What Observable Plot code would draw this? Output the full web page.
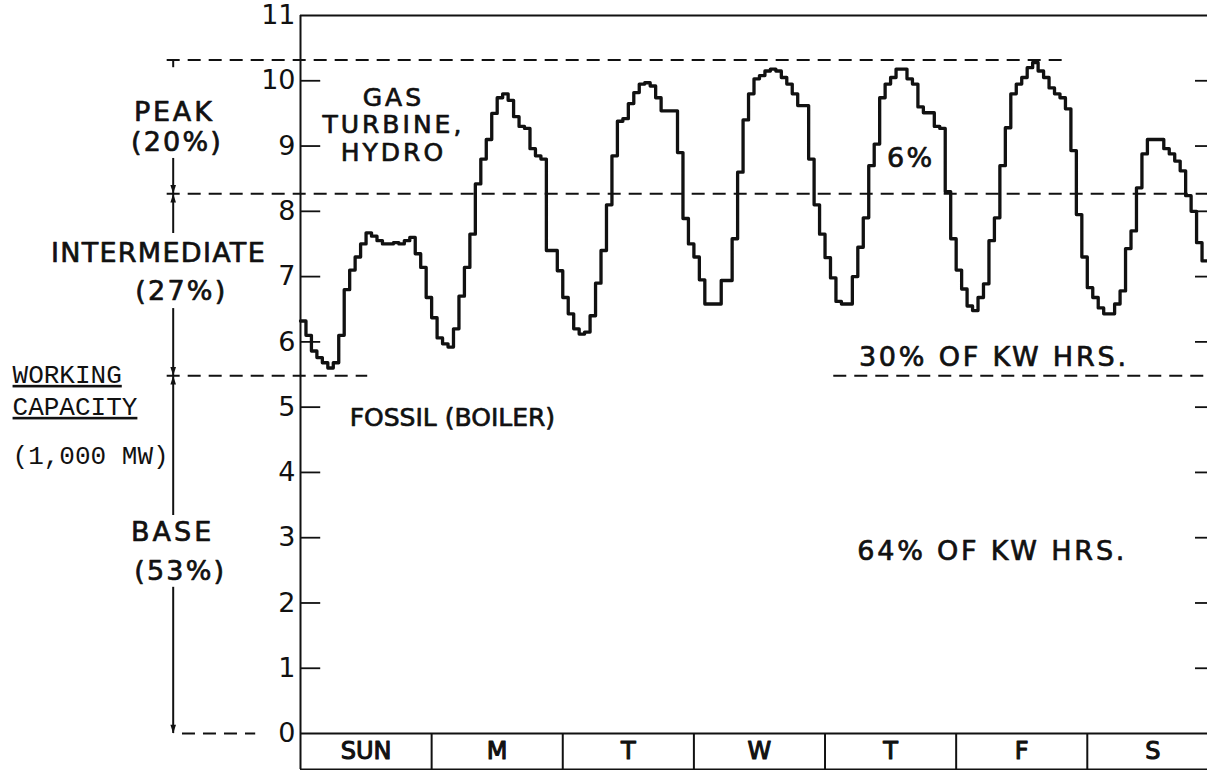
<!DOCTYPE html>
<html>
<head>
<meta charset="utf-8">
<script src="https://cdn.jsdelivr.net/npm/d3@7"></script>
<script src="https://cdn.jsdelivr.net/npm/@observablehq/plot@0.6"></script>
<style>
  html, body { margin: 0; padding: 0; background: #fff; overflow: hidden; }
</style>
</head>
<body>
<div id="chart"></div>
<script>
// Hourly system load (1,000 MW), one week starting Sunday 0h
const sunday    = [6.32, 6.1, 5.86, 5.76, 5.68, 5.6, 5.68, 6.1, 6.8, 7.1, 7.3, 7.5, 7.67, 7.62, 7.55, 7.5, 7.5, 7.52, 7.5, 7.55, 7.6, 7.35, 7.14, 6.68];
const monday    = [6.37, 6.06, 5.97, 5.92, 6.2, 6.7, 7.14, 7.65, 8.42, 8.8, 9.1, 9.5, 9.74, 9.8, 9.7, 9.45, 9.3, 9.27, 8.96, 8.85, 8.8, 7.4, 7.4, 7.09];
const tuesday   = [6.68, 6.43, 6.2, 6.12, 6.15, 6.4, 6.9, 7.4, 8.1, 8.85, 9.38, 9.42, 9.65, 9.82, 9.95, 9.97, 9.92, 9.74, 9.54, 9.54, 9.54, 8.9, 7.89, 7.5];
const wednesday = [7.3, 6.95, 6.58, 6.58, 6.58, 6.94, 6.94, 7.58, 8.6, 9.4, 9.8, 10.03, 10.08, 10.15, 10.18, 10.15, 10.05, 9.95, 9.8, 9.62, 9.62, 8.8, 8.1, 7.65];
const thursday  = [7.29, 6.98, 6.62, 6.58, 6.58, 7.0, 7.45, 7.9, 8.7, 9.03, 9.74, 9.95, 10.05, 10.18, 10.18, 10.03, 9.95, 9.6, 9.51, 9.51, 9.3, 9.27, 8.3, 7.58];
const friday    = [7.1, 6.81, 6.55, 6.48, 6.68, 6.89, 7.55, 7.9, 8.7, 9.28, 9.8, 9.95, 10.05, 10.2, 10.28, 10.15, 10.05, 9.89, 9.8, 9.74, 9.57, 8.93, 7.95, 7.3];
const saturday  = [6.83, 6.68, 6.52, 6.43, 6.43, 6.58, 6.78, 7.43, 7.7, 8.36, 8.88, 9.1, 9.1, 9.1, 8.96, 8.88, 8.77, 8.62, 8.24, 8.0, 7.52, 7.24];

const days = ["SUN", "M", "T", "W", "T", "F", "S"];
const yTicks = [0, 1, 2, 3, 4, 5, 6, 7, 8, 9, 10, 11];
const innerTicks = [1, 2, 3, 4, 5, 6, 7, 8, 9, 10];

// capacity levels (1,000 MW)
const peakTop = 10.32;
const intermediateTop = 8.27;
const baseTop = 5.48;

// ---- derived tables ----
const load = [...sunday, ...monday, ...tuesday, ...wednesday, ...thursday, ...friday, ...saturday];
const hoursShown = 166;
const loadRows = load.map((v, i) => ({h: i, v}));
loadRows.push({h: load.length, v: load[load.length - 1]}); // close last hourly step

const boxBottom = -0.551;           // bottom of day-name strip
const boxMid = boxBottom / 2;
const dayBounds = days.map((d, i) => i * 24).slice(1);
const dayCenters = days.map((d, i) => ({name: d, h: i * 24 + 12}));

const guideX = -24.4;               // left start of guide lines (hours)
const dashed = [
  {y: peakTop, x1: guideX, x2: 139.4},
  {y: intermediateTop, x1: guideX, x2: hoursShown},
  {y: baseTop, x1: guideX, x2: 12.3},
  {y: baseTop, x1: 97.6, x2: hoursShown},
  {y: 0, x1: -21.6, x2: -8.2}
];

const arrowX = -23.3;
const arrowSegs = [
  {y1: peakTop, y2: 10.2},
  {y1: 8.81, y2: intermediateTop},
  {y1: intermediateTop, y2: 7.66},
  {y1: 6.51, y2: baseTop},
  {y1: baseTop, y2: 3.34},
  {y1: 2.24, y2: 0}
];
const arrowDown = [intermediateTop, baseTop, 0];
const arrowUp = [intermediateTop, baseTop];

const leftLabels = [
  {t: "PEAK", h: -23.1, y: 9.51},
  {t: "(20%)", h: -22.6, y: 9.05},
  {t: "INTERMEDIATE", h: -26.0, y: 7.35},
  {t: "(27%)", h: -21.8, y: 6.77},
  {t: "BASE", h: -23.4, y: 3.08},
  {t: "(53%)", h: -22.0, y: 2.48}
];
const monoLabels = [
  {t: "WORKING", y: 5.50},
  {t: "CAPACITY", y: 5.01},
  {t: "(1,000 MW)", y: 4.26}
];
const plotLabels = [
  {t: "6%", h: 111.7, y: 8.81},
  {t: "30% OF KW HRS.", h: 126.9, y: 5.76},
  {t: "64% OF KW HRS.", h: 126.6, y: 2.79}
];
const stackLabel = [{t: "GAS\nTURBINE,\nHYDRO", h: 17.0, y: 9.33}];
const fossilLabel = [{t: "FOSSIL (BOILER)", h: 27.8, y: 4.83}];

// arrowhead symbols (tip at origin)
const headDown = {draw(ctx, size) { const l = Math.sqrt(size) * 1.1, w = l * 0.32; ctx.moveTo(0, 0); ctx.lineTo(-w, -l); ctx.lineTo(w, -l); ctx.closePath(); }};
const headUp = {draw(ctx, size) { const l = Math.sqrt(size) * 1.1, w = l * 0.32; ctx.moveTo(0, 0); ctx.lineTo(-w, l); ctx.lineTo(w, l); ctx.closePath(); }};

const ink = "#111";
const lettering = {fill: ink, stroke: ink, strokeWidth: 0.7, fontSize: 27};

const chart = Plot.plot({
  width: 1207,
  height: 770,
  marginTop: 15,
  marginBottom: 1,
  marginLeft: 300,
  marginRight: 0,
  x: {domain: [0, hoursShown], axis: null},
  y: {domain: [boxBottom, 11]},
  style: {fontFamily: "'DejaVu Sans', sans-serif", fontSize: "27px", color: ink, background: "#fff", overflow: "visible"},
  marks: [
    // frame / axes lines
    Plot.ruleX([0], {stroke: ink, strokeWidth: 2}),
    Plot.ruleY([11, 0, boxBottom], {stroke: ink, strokeWidth: 2}),
    Plot.ruleX(dayBounds, {y1: boxBottom, y2: 0, stroke: ink, strokeWidth: 2}),
    Plot.ruleY(innerTicks, {x1: 0, x2: 3.7, stroke: ink, strokeWidth: 1.8}),
    Plot.ruleY(innerTicks, {x1: 163.8, x2: hoursShown, stroke: ink, strokeWidth: 1.8}),
    Plot.axisY(yTicks, {tickSize: 0, tickPadding: 5, tickFormat: d => String(d), fontSize: 27, label: null, fill: ink, stroke: ink, strokeWidth: 0.5}),

    // guide levels
    Plot.ruleY(dashed, {y: "y", x1: "x1", x2: "x2", stroke: ink, strokeWidth: 2, strokeDasharray: "13,8"}),

    // range arrows on the left
    Plot.ruleX(arrowSegs, {x: arrowX, y1: "y1", y2: "y2", stroke: ink, strokeWidth: 2}),
    Plot.dot(arrowDown, {x: arrowX, y: d => d, symbol: headDown, r: 4.5, fill: ink, stroke: null}),
    Plot.dot(arrowUp, {x: arrowX, y: d => d, symbol: headUp, r: 4.5, fill: ink, stroke: null}),

    // load curve
    Plot.line(loadRows, {x: "h", y: "v", curve: "step-after", stroke: ink, strokeWidth: 3.3}),

    // texts
    Plot.text(leftLabels, {x: "h", y: "y", text: "t", ...lettering}),
    Plot.text(monoLabels, {x: -52.7, y: "y", text: "t", textAnchor: "start", fill: ink, fontFamily: "'Liberation Mono', monospace", fontSize: 26}),
    Plot.text(plotLabels, {x: "h", y: "y", text: "t", ...lettering}),
    Plot.text(stackLabel, {x: "h", y: "y", text: "t", lineHeight: 1.1, ...lettering, fontSize: 25}),
    Plot.text(fossilLabel, {x: "h", y: "y", text: "t", ...lettering, fontSize: 25}),
    Plot.text(dayCenters, {x: "h", y: boxMid, text: "name", fill: ink, stroke: ink, strokeWidth: 1.1, fontSize: 24})
  ]
});

// hand-lettered spacing for the annotation texts
const spaced = {
  "PEAK": 2.8, "(20%)": 2.2, "INTERMEDIATE": 1.3, "(27%)": 2.2, "BASE": 3, "(53%)": 2.2,
  "6%": 2.5, "30% OF KW HRS.": 2.8, "64% OF KW HRS.": 2.8, "GAS\nTURBINE,\nHYDRO": 3
};
const root = d3.select(chart);
root.selectAll("text").each(function () {
  const key = this.querySelector("tspan") ? Array.from(this.querySelectorAll("tspan"), t => t.textContent).join("\n") : this.textContent;
  if (key in spaced) d3.select(this).style("letter-spacing", spaced[key] + "px");
  if (key === "WORKING" || key === "CAPACITY") d3.select(this).style("text-decoration", "underline");
});

document.getElementById("chart").appendChild(chart);
</script>
</body>
</html>
